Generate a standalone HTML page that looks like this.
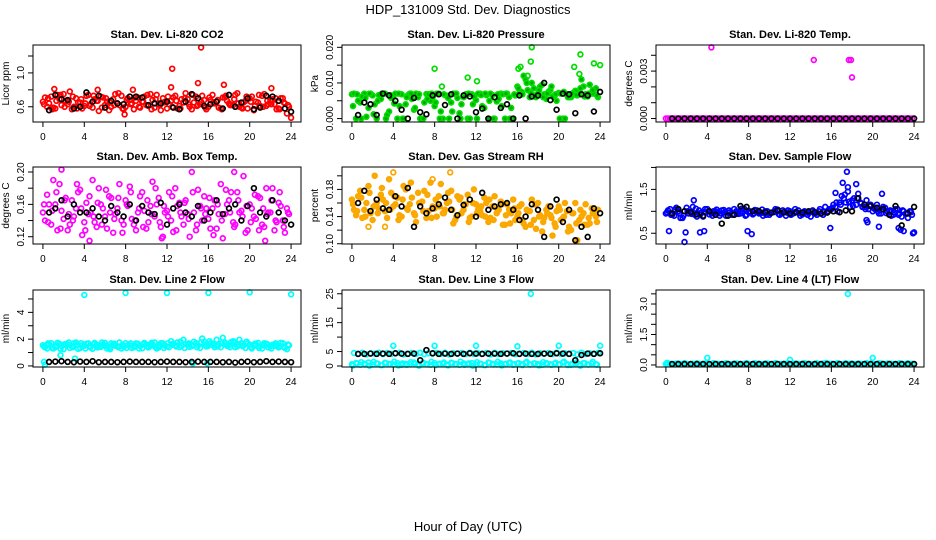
<!DOCTYPE html>
<html><head><meta charset="utf-8"><style>
html,body{margin:0;padding:0;background:#fff;}
svg{display:block;font-family:"Liberation Sans",sans-serif;}
</style></head><body>
<svg id="chart" width="936" height="540" viewBox="0 0 936 540" xmlns="http://www.w3.org/2000/svg">
<rect width="936" height="540" fill="#fff"/>
<text x="468" y="14" text-anchor="middle" font-size="13">HDP_131009  Std. Dev. Diagnostics</text>
<text x="468" y="531" text-anchor="middle" font-size="13">Hour of Day (UTC)</text>
<g id="panels"></g>
</svg>
<script>
// ---- data ----
const xTicks=[0,4,8,12,16,20,24];
// P1 CO2
const co2A=[.66,.60,.72,.58,.69,.75,.63,.57,.70,.65,.61,.74,.59,.67,.72,.62,.56,.69,.64,.73,.60,.68,.57,.71,.66,.62,.75,.59,.64,.70,.58,.67,.73,.61,.65,.69,.57,.72,.63,.68,.60,.74,.66,.58,.71,.64,.62,.76,.59,.67,.70,.56,.65,.73,.61,.68,.63,.58,.70,.52];
const co2B=[.71,.64,.59,.74,.62,.67,.78,.60,.65,.58,.73,.63,.69,.55,.71,.66,.60,.75,.62,.57,.70,.64,.67,.59,.72,.61,.68,.74,.56,.66,.63,.71,.58,.69,.76,.60,.65,.62,.73,.57,.68,.64,.59,.71,.67,.62,.74,.60,.65,.58,.72,.66,.61,.75,.63,.69,.57,.70,.64,.60];
const co2C=[.63,.70,.57,.67,.74,.60,.66,.72,.58,.69,.64,.61,.73,.67,.59,.70,.65,.62,.76,.58,.68,.63,.71,.60,.66,.74,.57,.69,.62,.65,.72,.60,.67,.58,.70,.63,.74,.61,.66,.59,.71,.65,.68,.57,.73,.62,.69,.64,.58,.72,.66,.61,.74,.60,.67,.63,.70,.57,.65,.62];
const co2OutX=[15.3,12.5,15,17.5,12.4,7.9,24,1.1,5.3,22.1,8.7];
const co2OutY=[1.3,1.05,.88,.86,.83,.51,.47,.81,.80,.82,.80];
const co2Black=[.56,.74,.69,.68,.58,.60,.77,.66,.73,.59,.67,.64,.63,.72,.72,.71,.62,.64,.64,.66,.59,.57,.66,.75,.70,.61,.63,.66,.58,.74,.60,.65,.70,.57,.59,.73,.72,.67,.58,.54];
const co2Ticks=[0.6,0.8,1.0,1.2];
const co2Labels=["0.6","","1.0",""];
// P2 Pressure
const presA=[.0068,.0000,.0045,.0070,.0030,.0065,.0000,.0055,.0070,.0020,.0062,.0000,.0068,.0040,.0070,.0025,.0060,.0000,.0069,.0050,.0035,.0070,.0000,.0064,.0045,.0070,.0015,.0060,.0000,.0068,.0052,.0070,.0030,.0000,.0066,.0048,.0070,.0000,.0060,.0000,.0090,.0075,.0110,.0060,.0085,.0070,.0095,.0055,.0080,.0065,.0072,.0000,.0068,.0060,.0078,.0070,.0090,.0062,.0070,.0085];
const presB=[.0070,.0050,.0062,.0005,.0070,.0040,.0066,.0070,.0010,.0058,.0070,.0035,.0000,.0065,.0055,.0070,.0000,.0045,.0068,.0060,.0070,.0020,.0066,.0000,.0070,.0058,.0040,.0068,.0000,.0062,.0070,.0035,.0066,.0070,.0000,.0055,.0068,.0070,.0030,.0065,.0070,.0120,.0080,.0100,.0060,.0090,.0068,.0075,.0062,.0050,.0070,.0000,.0060,.0072,.0065,.0110,.0068,.0095,.0070,.0060];
const presC=[.0035,.0068,.0000,.0058,.0070,.0012,.0050,.0070,.0000,.0066,.0042,.0070,.0000,.0060,.0070,.0030,.0068,.0000,.0055,.0070,.0045,.0000,.0068,.0058,.0020,.0070,.0000,.0062,.0070,.0040,.0000,.0066,.0070,.0050,.0000,.0068,.0035,.0070,.0000,.0068,.0085,.0068,.0100,.0072,.0065,.0080,.0060,.0070,.0090,.0068,.0000,.0075,.0060,.0070,.0066,.0085,.0062,.0070,.0080,.0065];
const presOutX=[17.4,17.3,22.1,23.4,24,21.5,8,16.1,11.2,12.1,8.7,22,16.3,17];
const presOutY=[.020,.016,.018,.0155,.015,.0145,.014,.014,.0115,.0105,.009,.0125,.0145,.012];
const presBlack=[.0010,.0045,.0040,.0010,.0070,.0065,.0050,.0025,.0000,.0058,.0018,.0012,.0065,.0068,.0038,.0068,.0000,.0065,.0062,.0018,.0028,.0000,.0060,.0030,.0040,.0000,.0065,.0000,.0062,.0065,.0100,.0052,.0025,.0070,.0068,.0015,.0068,.0065,.0020,.0075];
const presTicks=[0,0.005,0.010,0.015,0.020];
const presLabels=["0.000","","0.010","","0.020"];
// P3 Li-820 Temp
const ltA=[0,0,0,0,0,0,0,0,0,0,0,0,0,0,0,0,0,0,0,0,0,0,0,0,0,0,0,0,0,0,0,0,0,0,0,0,0,0,0,0,0,0,0,0,0,0,0,0,0,0,0,0,0,0,0,0,0,0,0,0];
const ltB=[0,0,0,0,0,0,0,0,0,0,0,0,0,0,0,0,0,0,0,0,0,0,0,0,0,0,0,0,0,0,0,0,0,0,0,0,0,0,0,0,0,0,0,0,0,0,0,0,0,0,0,0,0,0,0,0,0,0,0,0];
const ltC=[];
const ltOutX=[4.4,14.3,17.7,17.9,18];
const ltOutY=[.0045,.0037,.0037,.0037,.0026];
const ltBlack=[0,0,0,0,0,0,0,0,0,0,0,0,0,0,0,0,0,0,0,0,0,0,0,0,0,0,0,0,0,0,0,0,0,0,0,0,0,0,0,0];
const ltTicks=[0,0.001,0.002,0.003,0.004];
const ltLabels=["0.000","","","0.003",""];
// P4 Amb Box Temp
const abA=[.150,.172,.135,.160,.185,.142,.128,.165,.155,.178,.138,.148,.190,.132,.160,.145,.170,.125,.155,.140,.165,.182,.135,.150,.175,.130,.158,.145,.168,.120,.152,.140,.180,.162,.135,.148,.200,.128,.158,.170,.142,.155,.130,.185,.148,.165,.138,.175,.152,.125,.160,.145,.170,.135,.180,.150,.128,.162,.140,.155];
const abB=[.140,.160,.190,.128,.152,.168,.135,.145,.175,.122,.162,.150,.138,.180,.155,.130,.168,.148,.185,.135,.158,.142,.128,.170,.152,.138,.188,.160,.132,.150,.175,.126,.158,.145,.165,.120,.150,.178,.140,.155,.130,.165,.148,.118,.160,.175,.135,.150,.195,.128,.155,.142,.168,.132,.150,.180,.138,.158,.125,.148];
const abC=[.160,.138,.152,.175,.130,.165,.148,.140,.185,.155,.128,.170,.145,.162,.135,.178,.150,.142,.168,.125,.160,.175,.140,.155,.132,.165,.148,.180,.138,.158,.145,.170,.128,.150,.162,.142,.175,.135,.155,.148,.168,.122,.160,.140,.178,.150,.132,.165,.145,.158,.138,.172,.128,.155,.148,.165,.140,.175,.132,.150];
const abOutX=[1.8,4.5,11.5,18.5,21.5];
const abOutY=[.203,.115,.118,.2,.115];
const abBlack=[.150,.155,.165,.145,.160,.150,.150,.155,.145,.140,.158,.150,.145,.160,.140,.158,.150,.148,.162,.135,.155,.160,.150,.145,.158,.140,.150,.165,.148,.155,.160,.140,.158,.180,.150,.145,.165,.150,.140,.135];
const abTicks=[0.12,0.14,0.16,0.18,0.20];
const abLabels=["0.12","","0.16","","0.20"];
// P5 Gas Stream RH
const rhA=[.165,.142,.178,.150,.185,.135,.160,.172,.148,.195,.155,.168,.140,.180,.158,.145,.175,.162,.138,.190,.152,.170,.145,.160,.178,.135,.165,.150,.172,.140,.158,.148,.168,.132,.155,.145,.162,.128,.150,.165,.140,.158,.125,.148,.135,.160,.118,.150,.142,.130,.155,.138,.148,.120,.160,.135,.145,.128,.152,.140];
const rhB=[.150,.170,.138,.160,.145,.200,.152,.165,.138,.175,.158,.142,.185,.150,.168,.132,.160,.178,.148,.155,.140,.188,.150,.162,.130,.170,.145,.158,.138,.180,.150,.142,.160,.138,.170,.150,.128,.158,.145,.135,.155,.130,.148,.165,.122,.142,.138,.155,.112,.148,.135,.160,.125,.145,.105,.140,.158,.130,.148,.150];
const rhC=[.158,.148,.168,.140,.175,.155,.145,.182,.160,.150,.170,.135,.165,.152,.190,.142,.160,.148,.172,.138,.165,.155,.145,.175,.150,.140,.168,.158,.132,.160,.145,.155,.140,.165,.135,.150,.158,.142,.130,.152,.145,.135,.150,.128,.158,.140,.132,.145,.138,.125,.150,.140,.118,.145,.130,.150,.128,.138,.145,.132];
const rhOutX=[4,9.5,1.6,7.8,3.2];
const rhOutY=[.205,.205,.125,.195,.125];
const rhBlack=[.160,.178,.148,.165,.152,.150,.170,.155,.182,.125,.155,.145,.152,.158,.168,.150,.142,.157,.165,.140,.175,.150,.155,.158,.160,.150,.135,.140,.158,.150,.110,.155,.165,.132,.150,.105,.125,.110,.152,.145];
const rhTicks=[0.10,0.12,0.14,0.16,0.18,0.20];
const rhLabels=["0.10","","0.14","","0.18",""];
// P6 Sample Flow
const sfA=[.95,1.05,.90,1.00,.85,1.08,.98,.92,1.02,.88,1.05,.95,1.00,.90,1.03,.97,.92,1.00,.95,1.05,.98,.93,1.02,.96,1.00,.92,.98,1.04,.95,.90,1.00,.96,1.02,.93,.98,.88,.95,1.00,.92,.98,1.05,1.10,1.20,1.30,1.45,1.25,1.15,1.20,1.10,1.05,1.00,1.15,.95,1.08,1.00,.92,1.05,.88,.95,1.00];
const sfB=[1.02,.92,1.08,.85,1.00,.95,1.10,.88,.97,1.05,.93,1.00,.96,1.02,.90,.98,1.05,.94,1.00,.92,.97,1.03,.95,.90,1.00,.97,1.05,.92,.98,1.02,.94,.99,.90,1.00,.96,1.02,.92,.95,1.10,1.05,1.15,1.00,1.35,1.20,1.10,1.30,1.40,1.10,1.25,1.15,1.05,.95,1.10,1.00,.90,1.05,.95,1.00,.85,.92];
const sfC=[.98,.92,1.04,.96,.90,1.00,.94,1.06,.92,.98,1.00,.90,1.04,.95,.98,1.02,.93,.97,1.06,.90,1.00,.95,.98,1.04,.92,.96,1.00,.94,1.02,.97,.92,1.05,.96,.98,.92,1.00,.96,1.05,.98,1.00,1.08,1.20,1.15,1.38,1.22,1.12,1.30,1.18,1.05,1.12,1.08,1.00,1.05,.96,1.02,.98,.92,1.02,.95,.98];
const sfOutX=[.3,1.8,1.9,3.3,3.7,2.7,7.9,8.3,15.9,16.4,17.1,17.5,17.6,18.4,19.4,19.5,20.6,20.9,22.7,23,24,23.9,22.5];
const sfOutY=[.55,.30,.52,.52,.55,1.25,.55,.48,.62,1.42,1.65,1.9,1.55,1.62,.8,.75,.65,1.4,.58,.55,.52,.5,.62];
const sfBlack=[.95,1.05,1.00,.98,.93,.90,1.00,.92,.72,.90,.92,1.12,1.10,1.00,1.00,.98,.97,1.02,.98,.95,.98,.97,1.00,.98,.95,.97,1.00,.98,1.02,1.00,1.30,1.15,1.12,1.08,1.05,.92,1.12,.68,.95,1.10];
const sfTicks=[0.5,1.0,1.5,2.0];
const sfLabels=["0.5","","1.5",""];
// P7 Line 2 Flow
const l2A=[1.55,1.30,1.70,1.40,1.65,1.25,1.60,1.45,1.75,1.35,1.50,1.68,1.28,1.58,1.42,1.72,1.35,1.62,1.48,1.30,1.70,1.55,1.40,1.65,1.32,1.60,1.50,1.75,1.38,1.68,1.45,1.85,1.55,1.40,1.95,1.60,1.48,1.70,1.35,1.80,1.50,1.65,1.95,1.40,1.75,1.55,1.85,1.45,1.70,1.35,1.60,1.50,1.72,1.30,1.65,1.45,1.58,1.38,1.70,1.25];
const l2B=[1.40,1.62,1.30,1.72,1.48,1.58,1.35,1.70,1.28,1.55,1.65,1.38,1.72,1.45,1.60,1.30,1.68,1.50,1.75,1.42,1.55,1.35,1.68,1.48,1.72,1.38,1.62,1.30,1.70,1.52,1.40,1.65,1.75,1.50,1.62,1.42,1.80,1.55,2.05,1.45,1.70,1.40,1.60,2.10,1.50,1.78,1.40,1.95,1.55,1.68,1.30,1.62,1.45,1.70,1.38,1.58,1.48,1.72,1.35,1.55];
const l2C=[1.45,1.68,1.35,1.55,1.28,1.62,1.75,1.40,1.58,1.70,1.30,1.48,1.62,1.38,1.75,1.52,1.25,1.65,1.40,1.58,1.35,1.68,1.50,1.30,1.62,1.45,1.72,1.40,1.55,1.35,1.70,1.58,1.45,1.80,1.35,1.68,1.55,1.40,1.75,1.60,1.85,1.55,1.45,1.70,1.62,1.40,1.75,1.58,1.48,1.80,1.42,1.65,1.35,1.55,1.62,1.30,1.68,1.50,1.42,1.60];
const l2OutX=[4,8,12,16,20,24,1.7,3.1,.1,.2,15.9,14.5];
const l2OutY=[5.3,5.45,5.45,5.45,5.5,5.35,.8,.55,.3,.1,.2,.2];
const l2Black=[.30,.32,.35,.30,.28,.32,.30,.35,.28,.30,.30,.28,.30,.32,.30,.30,.30,.28,.30,.32,.30,.30,.28,.30,.32,.30,.30,.30,.28,.30,.25,.30,.32,.28,.30,.35,.30,.32,.30,.28];
const l2Ticks=[0,1,2,3,4,5];
const l2Labels=["0","","2","","4",""];
// P8 Line 3 Flow
const l3A=[.6,1.0,.4,.8,1.2,.5,.9,.3,1.1,.7,.5,1.0,.4,.8,.6,1.2,.5,.9,.7,.4,1.0,.6,.8,.5,1.1,.7,.4,.9,.6,1.0,.5,.8,.3,1.2,.7,.5,.9,.6,1.0,.4,.8,.6,1.1,.5,.9,.7,.4,1.0,.6,.8,.5,1.2,.7,.4,.9,.6,1.0,.5,.8,.6];
const l3B=[4.5,4.2,4.6,4.0,4.4,4.3,4.6,4.1,4.5,4.2,4.4,4.6,4.0,4.3,4.5,4.2,4.6,4.1,4.4,4.3,4.5,4.2,4.6,4.0,4.4,4.3,4.5,4.1,4.6,4.2,4.4,4.3,4.5,4.0,4.6,4.2,4.4,4.3,4.5,4.1,4.3,4.5,4.2,4.6,4.0,4.4,4.3,4.5,4.1,4.6,4.2,4.4,4.3,4.5,4.0,4.6,4.2,4.4,4.3,4.5];
const l3C=[.2,.9,1.3,.5,.1,1.4,.8,.3,1.0,.6,1.5,.2,.9,.4,1.3,.7,.1,1.1,.5,1.4,.3,.8,1.2,.2,1.0,.6,1.5,.4,.9,.1,1.3,.7,.3,1.1,.5,1.4,.2,.8,1.2,.6,1.0,.3,1.4,.5,.9,.2,1.3,.7,.4,1.1,.6,1.5,.3,.8,1.2,.1,1.0,.5,1.4,.4];
const l3OutX=[4,8,12,16,20,24,17.3];
const l3OutY=[7,7,7,6.8,7,7,25];
const l3Black=[4.2,4.2,4.3,4.2,4.3,4.2,4.4,4.3,4.2,4.3,2.0,5.5,4.4,4.2,4.3,4.2,4.3,4.2,4.4,4.3,4.2,4.3,4.3,4.2,4.3,4.4,4.2,4.3,4.2,4.2,4.3,4.2,4.4,4.3,4.2,2.0,3.8,4.3,4.2,4.4];
const l3Ticks=[0,5,10,15,20,25];
const l3Labels=["0","5","","15","","25"];
// P9 Line 4 (LT) Flow
const l4A=[.05,.06,.05,.07,.05,.06,.05,.05,.06,.05,.07,.05,.06,.05,.05,.06,.05,.07,.05,.06,.05,.05,.06,.05,.07,.05,.06,.05,.05,.06,.05,.07,.05,.06,.05,.05,.06,.05,.07,.05,.06,.05,.05,.06,.05,.07,.05,.06,.05,.05,.06,.05,.07,.05,.06,.05,.05,.06,.05,.05];
const l4B=[.08,.04,.07,.05,.09,.04,.06,.08,.05,.07,.04,.09,.06,.05,.08,.04,.07,.06,.05,.09,.04,.08,.06,.05,.07,.04,.09,.05,.06,.08,.04,.07,.05,.09,.06,.04,.08,.05,.07,.06,.04,.09,.05,.08,.06,.04,.07,.05,.09,.06,.04,.08,.05,.07,.06,.04,.09,.05,.08,.06];
const l4C=[];
const l4OutX=[17.6,4,12,20,.1,15.5];
const l4OutY=[3.5,.35,.25,.35,.1,.1];
const l4Black=[.05,.05,.05,.05,.05,.05,.05,.05,.05,.05,.05,.05,.05,.05,.05,.05,.05,.05,.05,.05,.05,.05,.05,.05,.05,.05,.05,.05,.05,.05,.05,.05,.05,.05,.05,.05,.05,.05,.05,.05];
const l4Ticks=[0,0.5,1.0,1.5,2.0,2.5,3.0,3.5];
const l4Labels=["0.0","","","1.5","","","3.0",""];

// ---- layout ----
const cols=[33,342,656], rows=[45,167,290], W=268, H=77;
const panels=[
 {name:"co2",title:"Stan. Dev. Li-820 CO2",yt:"Licor ppm",c:0,r:0,ymin:.42,ymax:1.33,A:co2A,B:co2B,C:co2C,ox:co2OutX,oy:co2OutY,K:co2Black,t:co2Ticks,l:co2Labels,col:"#ff0000",fill:"none"},
 {name:"pressure",title:"Stan. Dev. Li-820 Pressure",yt:"kPa",c:1,r:0,ymin:-.00096,ymax:.02065,A:presA,B:presB,C:presC,ox:presOutX,oy:presOutY,K:presBlack,t:presTicks,l:presLabels,col:"#00dd00",fill:"#00aa00"},
 {name:"li820-temp",title:"Stan. Dev. Li-820 Temp.",yt:"degrees C",c:2,r:0,ymin:-.00022,ymax:.00465,A:ltA,B:ltB,C:ltC,ox:ltOutX,oy:ltOutY,K:ltBlack,t:ltTicks,l:ltLabels,col:"#ff00ff",fill:"none"},
 {name:"amb-box-temp",title:"Stan. Dev. Amb. Box Temp.",yt:"degrees C",c:0,r:1,ymin:.111,ymax:.2062,A:abA,B:abB,C:abC,ox:abOutX,oy:abOutY,K:abBlack,t:abTicks,l:abLabels,col:"#ff00ff",fill:"none"},
 {name:"gas-rh",title:"Stan. Dev. Gas Stream RH",yt:"percent",c:1,r:1,ymin:.0996,ymax:.213,A:rhA,B:rhB,C:rhC,ox:rhOutX,oy:rhOutY,K:rhBlack,t:rhTicks,l:rhLabels,col:"#ffa500",fill:"#f0b000"},
 {name:"sample-flow",title:"Stan. Dev. Sample Flow",yt:"ml/min",c:2,r:1,ymin:.255,ymax:2.01,A:sfA,B:sfB,C:sfC,ox:sfOutX,oy:sfOutY,K:sfBlack,t:sfTicks,l:sfLabels,col:"#0000ff",fill:"none"},
 {name:"line2-flow",title:"Stan. Dev. Line 2 Flow",yt:"ml/min",c:0,r:2,ymin:-.08,ymax:5.67,A:l2A,B:l2B,C:l2C,ox:l2OutX,oy:l2OutY,K:l2Black,t:l2Ticks,l:l2Labels,col:"#00ffff",fill:"none"},
 {name:"line3-flow",title:"Stan. Dev. Line 3 Flow",yt:"ml/min",c:1,r:2,ymin:-.35,ymax:26.3,A:l3A,B:l3B,C:l3C,ox:l3OutX,oy:l3OutY,K:l3Black,t:l3Ticks,l:l3Labels,col:"#00ffff",fill:"none"},
 {name:"line4-flow",title:"Stan. Dev. Line 4 (LT) Flow",yt:"ml/min",c:2,r:2,ymin:-.1,ymax:3.69,A:l4A,B:l4B,C:l4C,ox:l4OutX,oy:l4OutY,K:l4Black,t:l4Ticks,l:l4Labels,col:"#00ffff",fill:"none"}
];
const NS="http://www.w3.org/2000/svg";
const root=document.getElementById('panels');
function mk(tag,attrs,parent){const e=document.createElementNS(NS,tag);for(const k in attrs)e.setAttribute(k,attrs[k]);parent.appendChild(e);return e;}
panels.forEach(p=>{
  const L=cols[p.c],T=rows[p.r];
  const xs=v=>L+(v+0.96)/25.92*W;
  const ys=v=>T+H-(v-p.ymin)/(p.ymax-p.ymin)*H;
  const g=mk('g',{},root);
  
  
  const tt=mk('text',{x:L+W/2,y:T-7,'text-anchor':'middle','font-size':'11','font-weight':'bold'},g);
  tt.textContent=p.title;
  
  
  const pts=mk('g',{'stroke-width':'1.7'},g);
  
  
  const dot=(x,y,col,fill)=>{
    if(y<p.ymin||y>p.ymax)return;
    const c=mk('circle',{cx:xs(x).toFixed(1),cy:ys(y).toFixed(1),r:'2.4',stroke:col,fill:fill},pts);
    
    
  };
  p.A.forEach((v,i)=>dot(i*0.4,v,p.col,p.fill));
  p.B.forEach((v,i)=>dot(0.2+i*0.4,v,p.col,p.fill));
  p.C.forEach((v,i)=>dot(0.1+i*0.4,v,p.col,p.fill));
  p.ox.forEach((x,i)=>dot(x,p.oy[i],p.col,'none'));
  p.K.forEach((v,i)=>dot(0.6+i*0.6,v,'#000','none'));
  const bx=mk('rect',{x:L,y:T,width:W,height:H,fill:'none',stroke:'#000','stroke-width':'1'},g);
  
  
  const ax=mk('g',{stroke:'#000','stroke-width':'1'},g);
  
  
  mk('line',{x1:xs(xTicks[0]),x2:xs(xTicks[xTicks.length-1]),y1:T+H,y2:T+H},ax);
  xTicks.forEach(v=>{
    mk('line',{x1:xs(v),x2:xs(v),y1:T+H,y2:T+H+5},ax);
    const t=mk('text',{x:xs(v),y:T+H+18,'text-anchor':'middle','font-size':'10',stroke:'none',fill:'#000'},ax);
    t.textContent=v;
    
    
  });
  const ay=mk('g',{stroke:'#000','stroke-width':'1'},g);
  
  
  p.t.forEach((v,i)=>{
    const y=ys(v);
    mk('line',{x1:L-5,x2:L,y1:y,y2:y},ay);
    if(p.l[i]){
      const t=mk('text',{x:0,y:0,transform:`translate(${L-9},${y}) rotate(-90)`,'text-anchor':'middle','font-size':'10',stroke:'none',fill:'#000'},ay);
      t.textContent=p.l[i];
      
      
    }
  });
  const yt=mk('text',{x:0,y:0,transform:`translate(${L-24},${T+H/2}) rotate(-90)`,'text-anchor':'middle','font-size':'10'},g);
  yt.textContent=p.yt;
  
  
});
</script>
</body></html>
